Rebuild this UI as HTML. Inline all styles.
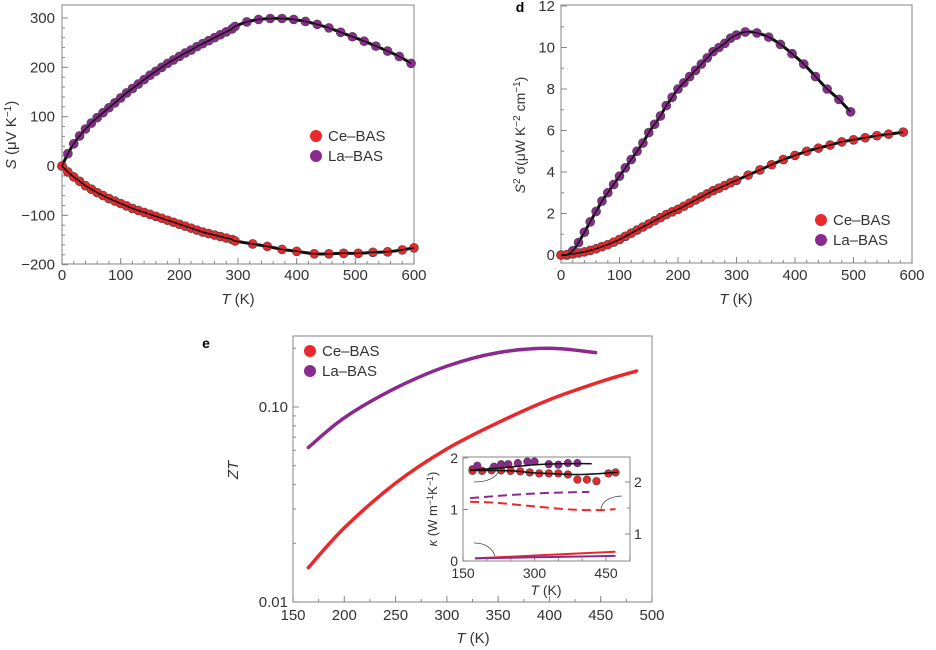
<!DOCTYPE html>
<html><head><meta charset="utf-8">
<style>
html,body{margin:0;padding:0;background:#fff;}
svg{display:block;font-family:"Liberation Sans",sans-serif;}
</style></head>
<body>
<svg id="fig" width="936" height="650" viewBox="0 0 936 650" xmlns="http://www.w3.org/2000/svg"></svg>
<script>
// ---------- Panel c: Seebeck ----------
const cLaT = [0,10,20,30,40,50,60,70,80,90,100,110,120,130,140,150,160,170,180,190,200,210,220,230,240,250,260,270,280,290,295,315,335,355,375,395,415,435,455,475,495,515,535,555,575,595];
const cLaS = [0,25,45,61,75,87,98,108,118,128,138,148,157,166,175,184,192,200,208,215,222,229,235,242,248,254,260,266,272,278,283,292,297,299,299,297,293,287,280,271,262,253,243,233,222,208];
const cCeT = [0,10,20,30,40,50,60,70,80,90,100,110,120,130,140,150,160,170,180,190,200,210,220,230,240,250,260,270,280,290,295,325,350,375,400,430,455,480,505,530,555,580,600];
const cCeS = [0,-12,-22,-31,-40,-47,-54,-60,-66,-71,-76,-81,-86,-90,-94,-98,-102,-106,-110,-114,-118,-122,-126,-130,-134,-137,-140,-143,-146,-149,-152,-158,-163,-169,-173,-178,-178,-177,-177,-175,-174,-170,-166];
const cXTicks = [0,100,200,300,400,500,600];
const cYTicks = [-200,-100,0,100,200,300];
// ---------- Panel d: power factor ----------
const dLaT = [0,10,20,30,40,50,60,70,80,90,100,110,120,130,140,150,160,170,180,190,200,210,220,230,240,250,260,270,280,290,300,315,335,355,375,395,415,435,455,475,495];
const dLaP = [0,0,0.2,0.6,1.1,1.6,2.1,2.6,3.0,3.4,3.8,4.2,4.6,5.0,5.4,5.9,6.3,6.7,7.2,7.6,8.0,8.3,8.6,8.9,9.2,9.5,9.8,10.0,10.2,10.45,10.6,10.75,10.7,10.5,10.15,9.7,9.2,8.6,8.0,7.5,6.9];
const dCeT = [0,10,20,30,40,50,60,70,80,90,100,110,120,130,140,150,160,170,180,190,200,210,220,230,240,250,260,270,280,290,300,320,340,360,380,400,420,440,460,480,500,520,540,560,585];
const dCeP = [0,0.02,0.05,0.1,0.15,0.22,0.3,0.4,0.5,0.62,0.75,0.9,1.05,1.2,1.35,1.5,1.65,1.8,1.95,2.08,2.2,2.35,2.5,2.65,2.8,2.95,3.1,3.22,3.35,3.48,3.6,3.85,4.1,4.35,4.6,4.8,5.0,5.15,5.3,5.45,5.55,5.65,5.75,5.82,5.92];
const dXTicks = [0,100,200,300,400,500,600];
const dYTicks = [0,2,4,6,8,10,12];
// ---------- Panel e: ZT ----------
const eLaT = [165,200,250,300,350,400,445];
const eLaZ = [0.062,0.088,0.125,0.162,0.19,0.2,0.19];
const eCeT = [165,200,250,300,350,400,450,485];
const eCeZ = [0.015,0.024,0.0407,0.061,0.0832,0.109,0.135,0.153];
const eXTicks = [150,200,250,300,350,400,450,500];
// ---------- Inset: kappa ----------
const kLaT = [170,180,215,230,245,265,285,300,330,350,370,390];
const kLaK = [1.78,1.85,1.83,1.88,1.88,1.9,1.93,1.93,1.88,1.87,1.9,1.9];
const kCeT = [170,190,210,230,250,270,290,310,330,350,370,390,410,430,455,470];
const kCeK = [1.75,1.75,1.76,1.76,1.75,1.74,1.72,1.7,1.7,1.7,1.68,1.58,1.58,1.55,1.7,1.72];
const kLaFitT = [165,220,300,350,420];
const kLaFitK = [1.77,1.8,1.87,1.89,1.89];
const kCeFitT = [165,250,300,350,400,475];
const kCeFitK = [1.76,1.75,1.71,1.69,1.68,1.72];
const kLaDashT = [165,250,330,415];
const kLaDashR = [1.69,1.75,1.79,1.81];
const kCeDashT = [165,220,300,380,440,470];
const kCeDashR = [1.62,1.6,1.53,1.47,1.46,1.48];
const kLaLatT = [175,470];
const kLaLatK = [0.05,0.1];
const kCeLatT = [175,470];
const kCeLatK = [0.05,0.18];
const kXTicks = [150,300,450];
const kYTicks = [0,1,2];
const kRTicks = [1,2];

const NS="http://www.w3.org/2000/svg";
const svg=document.getElementById('fig');
function mk(tag,attrs,parent){const e=document.createElementNS(NS,tag);for(const k in attrs)e.setAttribute(k,attrs[k]);(parent||svg).appendChild(e);return e;}
function txt(s,x,y,size,anchor,parent,extra){const t=mk('text',Object.assign({x:x,y:y,'font-size':size,'text-anchor':anchor||'middle',fill:'#333'},extra||{}),parent);t.textContent=s;return t;}
function lin(a0,a1,p0,p1){return v=>p0+(v-a0)*(p1-p0)/(a1-a0);}
function pathD(xs,ys,X,Y){
  const p=xs.map((v,i)=>[X(v),Y(ys[i])]);
  let d='M'+p[0][0].toFixed(1)+','+p[0][1].toFixed(1);
  for(let i=0;i<p.length-1;i++){
    const p0=p[i-1]||p[i],p1=p[i],p2=p[i+1],p3=p[i+2]||p2;
    const c1=[p1[0]+(p2[0]-p0[0])/6,p1[1]+(p2[1]-p0[1])/6];
    const c2=[p2[0]-(p3[0]-p1[0])/6,p2[1]-(p3[1]-p1[1])/6];
    d+=' C'+c1[0].toFixed(1)+','+c1[1].toFixed(1)+' '+c2[0].toFixed(1)+','+c2[1].toFixed(1)+' '+p2[0].toFixed(1)+','+p2[1].toFixed(1);
  }
  return d;
}

function frame(g,x0,y0,x1,y1){mk('rect',{x:x0,y:y0,width:x1-x0,height:y1-y0,fill:'none',stroke:'#9a9a9a','stroke-width':1.2},g);}
function xAxis(g,ticks,X,yb,minorStep,size,ly){
  ticks.forEach(t=>{mk('line',{x1:X(t),x2:X(t),y1:yb,y2:yb-6,stroke:'#888'},g);
    const l=txt(String(t),X(t),ly,size,'middle',g);
    
    });
  for(let v=ticks[0];v<=ticks[ticks.length-1];v+=minorStep){mk('line',{x1:X(v),x2:X(v),y1:yb,y2:yb-3,stroke:'#888'},g);}
}
function yAxis(g,ticks,Y,xl,minorStep,size,lx){
  ticks.forEach(t=>{mk('line',{x1:xl,x2:xl+6,y1:Y(t),y2:Y(t),stroke:'#888'},g);
    const l=txt(String(t).replace('-','\u2212'),lx,Y(t)+5,size,'end',g);
    
    });
  for(let v=ticks[0];v<=ticks[ticks.length-1]+1e-9;v+=minorStep){mk('line',{x1:xl,x2:xl+3,y1:Y(v),y2:Y(v),stroke:'#888'},g);}
}
function dots(g,xs,ys,X,Y,col,r,name){xs.forEach((v,i)=>{const c=mk('circle',{cx:X(v),cy:Y(ys[i]),r:r,fill:col,stroke:'#444','stroke-width':0.6},g);
  
  });}
function legend(g,x,y,size){
  mk('circle',{cx:x,cy:y,r:6,fill:'#e8282b'},g);txt('Ce\u2013BAS',x+12,y+5,size,'start',g);
  mk('circle',{cx:x,cy:y+20,r:6,fill:'#8b2a8e'},g);txt('La\u2013BAS',x+12,y+25,size,'start',g);
}
const RED='#e8282b', PUR='#8b2a8e';

// Panel c
{const g=mk('g',{});
const X=lin(0,600,62,414), Y=lin(0,300,166,18);
frame(g,62,5,414,264);
xAxis(g,cXTicks,X,264,20,15,280);
yAxis(g,cYTicks,Y,62,20,15,55);
mk('path',{d:pathD(cLaT,cLaS,X,Y),fill:'none',stroke:'#111','stroke-width':3},g);
mk('path',{d:pathD(cCeT,cCeS,X,Y),fill:'none',stroke:'#111','stroke-width':3},g);
dots(g,cLaT,cLaS,X,Y,PUR,4.5,'la-seebeck-point');
dots(g,cCeT,cCeS,X,Y,RED,4.5,'ce-seebeck-point');
mk('path',{d:pathD(cLaT,cLaS,X,Y),fill:'none',stroke:'#111','stroke-width':1.5},g);
mk('path',{d:pathD(cCeT,cCeS,X,Y),fill:'none',stroke:'#111','stroke-width':1.5},g);
legend(g,316,136,15);
const xt=txt('',238,304,15,'middle',g);xt.innerHTML='<tspan font-style="italic">T</tspan> (K)';

const yt=txt('',0,0,15,'middle',g,{transform:'translate(16,135) rotate(-90)'});yt.innerHTML='<tspan font-style="italic">S</tspan> (\u03bcV K<tspan dy="-5" font-size="10">\u22121</tspan><tspan dy="5">)</tspan>';
}

// Panel d
{const g=mk('g',{});
const X=lin(0,600,561,912), Y=lin(0,12,255,6);
txt('d',520,12,14,'middle',g,{'font-weight':'bold',fill:'#000'});
frame(g,561,5,912,263);
xAxis(g,dXTicks,X,263,20,15,280);
yAxis(g,dYTicks,Y,561,1,15,555);
mk('path',{d:pathD(dLaT,dLaP,X,Y),fill:'none',stroke:'#111','stroke-width':3},g);
mk('path',{d:pathD(dCeT,dCeP,X,Y),fill:'none',stroke:'#111','stroke-width':3},g);
dots(g,dLaT,dLaP,X,Y,PUR,4.5,'la-pf-point');
dots(g,dCeT,dCeP,X,Y,RED,4.5,'ce-pf-point');
mk('path',{d:pathD(dLaT,dLaP,X,Y),fill:'none',stroke:'#111','stroke-width':1.5},g);
mk('path',{d:pathD(dCeT,dCeP,X,Y),fill:'none',stroke:'#111','stroke-width':1.5},g);
legend(g,821,220,15);
const xt=txt('',736,304,15,'middle',g);xt.innerHTML='<tspan font-style="italic">T</tspan> (K)';

const yt=txt('',0,0,14,'middle',g,{transform:'translate(525,135) rotate(-90)'});yt.innerHTML='<tspan font-style="italic">S</tspan><tspan dy="-5" font-size="10">2</tspan><tspan dy="5"> \u03c3(\u03bcW K</tspan><tspan dy="-5" font-size="10">\u22122</tspan><tspan dy="5"> cm</tspan><tspan dy="-5" font-size="10">\u22121</tspan><tspan dy="5">)</tspan>';
}

// Panel e
{const g=mk('g',{});
const X=lin(150,500,293,652);
const Y=v=>602-(Math.log10(v)+2)*195;
txt('e',206,348,14,'middle',g,{'font-weight':'bold',fill:'#000'});
frame(g,293,336,652,602);
xAxis(g,eXTicks,X,602,25,15,620);
[0.01,0.1].forEach(t=>{mk('line',{x1:293,x2:299,y1:Y(t),y2:Y(t),stroke:'#888'},g);
  const l=txt(t.toFixed(2),288,Y(t)+5,15,'end',g);});
[0.02,0.03,0.04,0.05,0.06,0.07,0.08,0.09,0.2].forEach(t=>mk('line',{x1:293,x2:296,y1:Y(t),y2:Y(t),stroke:'#888'},g));
const la=mk('path',{d:pathD(eLaT,eLaZ,X,Y),fill:'none',stroke:PUR,'stroke-width':3.5,'stroke-linecap':'round'},g);

const ce=mk('path',{d:pathD(eCeT,eCeZ,X,Y),fill:'none',stroke:RED,'stroke-width':3.5,'stroke-linecap':'round'},g);

legend(g,310,351,15);
const xt=txt('',473,643,15,'middle',g);xt.innerHTML='<tspan font-style="italic">T</tspan> (K)';

const yt=txt('ZT',0,0,15,'middle',g,{transform:'translate(238,470) rotate(-90)','font-style':'italic'});
}

// Inset
{const g=mk('g',{});
const X=lin(150,450,463,606), Y=lin(0,2,561,458), R=lin(1,2,534,482);
mk('rect',{x:463,y:457,width:167,height:104,fill:'#fff'},g);
frame(g,463,457,630,561);
kXTicks.forEach(t=>{mk('line',{x1:X(t),x2:X(t),y1:561,y2:556,stroke:'#888'},g);txt(String(t),X(t),578,14,'middle',g);});
for(let v=150;v<=500;v+=50)mk('line',{x1:X(v),x2:X(v),y1:561,y2:558,stroke:'#888'},g);
kYTicks.forEach(t=>{mk('line',{x1:463,x2:468,y1:Y(t),y2:Y(t),stroke:'#888'},g);txt(String(t),458,Y(t)+5,14,'end',g);});
kRTicks.forEach(t=>{mk('line',{x1:630,x2:625,y1:R(t),y2:R(t),stroke:'#888'},g);txt(String(t),634,R(t)+5,14,'start',g);});
[1.5,2.5].forEach(t=>{if(R(t)>457&&R(t)<561)mk('line',{x1:630,x2:627,y1:R(t),y2:R(t),stroke:'#888'},g);});
mk('path',{d:pathD(kLaDashT,kLaDashR,X,R),fill:'none',stroke:PUR,'stroke-width':2,'stroke-dasharray':'9,5'},g);
mk('path',{d:pathD(kCeDashT,kCeDashR,X,R),fill:'none',stroke:RED,'stroke-width':2,'stroke-dasharray':'9,5'},g);
mk('path',{d:pathD(kCeLatT,kCeLatK,X,Y),fill:'none',stroke:RED,'stroke-width':2},g);
mk('path',{d:pathD(kLaLatT,kLaLatK,X,Y),fill:'none',stroke:PUR,'stroke-width':2},g);
dots(g,kLaT,kLaK,X,Y,PUR,3.8,'la-kappa-point');
dots(g,kCeT,kCeK,X,Y,RED,3.8,'ce-kappa-point');
mk('path',{d:pathD(kLaFitT,kLaFitK,X,Y),fill:'none',stroke:'#111','stroke-width':1.5},g);
mk('path',{d:pathD(kCeFitT,kCeFitK,X,Y),fill:'none',stroke:'#111','stroke-width':1.5},g);
mk('path',{d:'M500,469 Q495,482 474,482',fill:'none',stroke:'#444','stroke-width':0.8},g);
mk('path',{d:'M601,509 Q603,497 622,496',fill:'none',stroke:'#444','stroke-width':0.8},g);
mk('path',{d:'M495,556 Q490,543 474,543',fill:'none',stroke:'#444','stroke-width':0.8},g);
const xt=txt('',546,595,14,'middle',g);xt.innerHTML='<tspan font-style="italic">T</tspan> (K)';

const yt=txt('',0,0,13,'middle',g,{transform:'translate(437,509) rotate(-90)'});yt.innerHTML='<tspan font-style="italic">\u03ba</tspan> (W m<tspan dy="-4" font-size="9">\u22121</tspan><tspan dy="4">K</tspan><tspan dy="-4" font-size="9">\u22121</tspan><tspan dy="4">)</tspan>';
}
</script>
</body></html>
